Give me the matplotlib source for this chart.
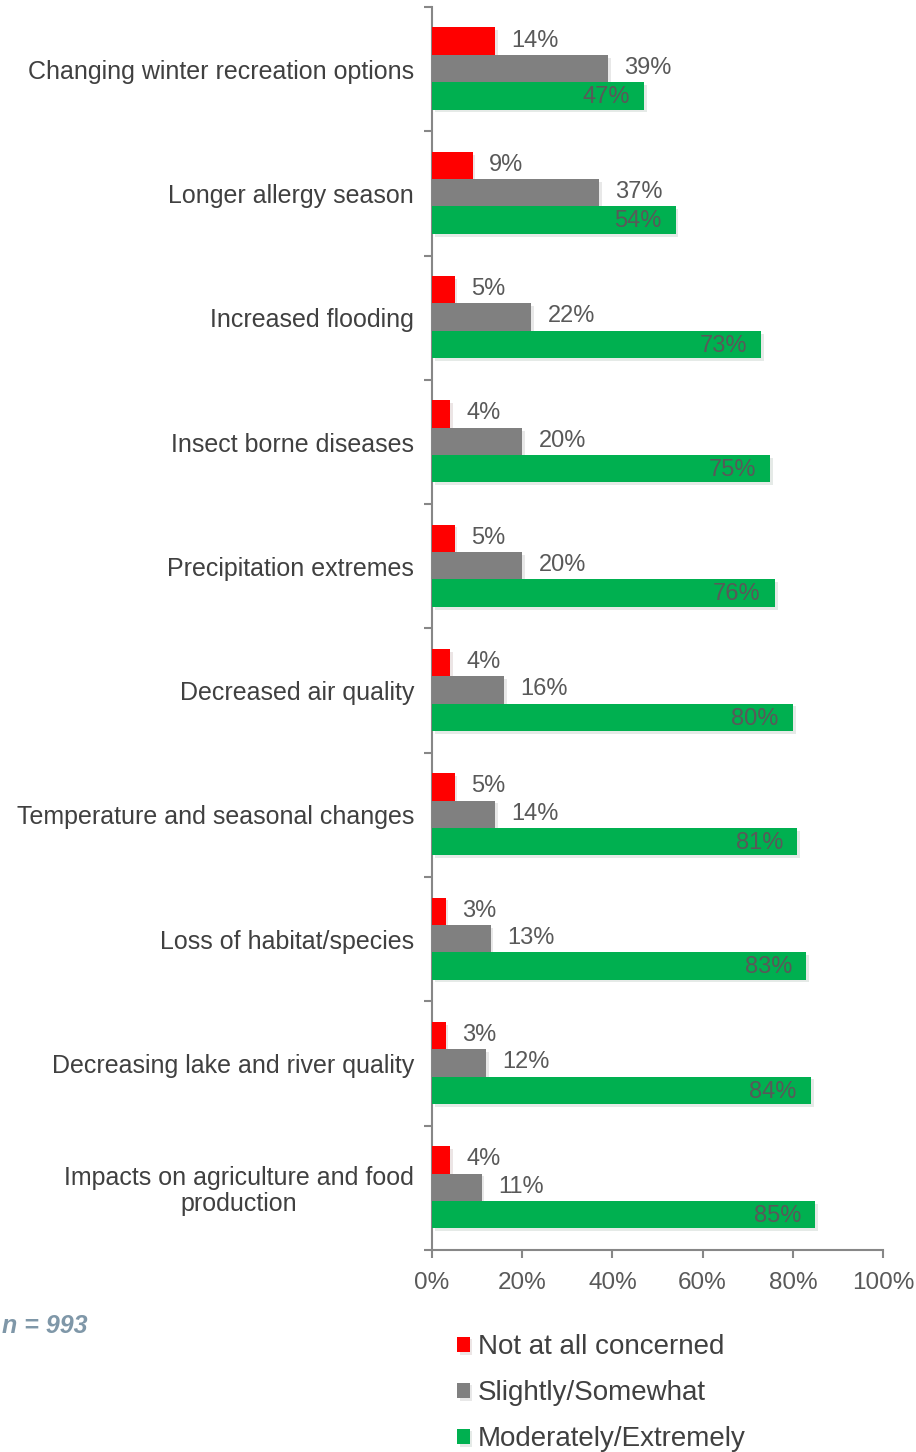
import matplotlib.pyplot as plt
import matplotlib.patheffects as pe
import numpy as np
from matplotlib.ticker import FixedLocator, PercentFormatter

categories = [
    "Changing winter recreation options",
    "Longer allergy season",
    "Increased flooding",
    "Insect borne diseases",
    "Precipitation extremes",
    "Decreased air quality",
    "Temperature and seasonal changes",
    "Loss of habitat/species",
    "Decreasing lake and river quality",
    "Impacts on agriculture and food\nproduction",
]
not_at_all = [14, 9, 5, 4, 5, 4, 5, 3, 3, 4]
slightly = [39, 37, 22, 20, 20, 16, 14, 13, 12, 11]
moderately = [47, 54, 73, 75, 76, 80, 81, 83, 84, 85]
series_names = ["Not at all concerned", "Slightly/Somewhat", "Moderately/Extremely"]

plt.rcParams['font.family'] = ['Liberation Sans', 'DejaVu Sans']
text_color = "#404040"
label_color = "#595959"
axis_color = "#878787"

fig = plt.figure(figsize=(9.16, 14.52), dpi=100)
ax = fig.add_axes([0.4716, 0.1391, 0.4924, 0.8561])

y = np.arange(len(categories))
h = 0.22
colors = ["#ff0000", "#808080", "#00b050"]
offsets = [-0.225, -0.005, 0.215]
shadow = [pe.SimplePatchShadow(offset=(2, -2), alpha=0.1), pe.Normal()]
handles = []
for vals, col, off, name in zip([not_at_all, slightly, moderately], colors, offsets, series_names):
    bars = ax.barh(y + off, vals, height=h, color=col, label=name, zorder=3)
    for b in bars:
        b.set_path_effects(shadow)
    handles.append(bars)
    for yy, v in zip(y + off, vals):
        if col == "#00b050":
            ax.text(v - 3.2, yy + 0.01, f"{v}%", ha="right", va="center",
                    fontsize=17, color=label_color, zorder=4)
        else:
            ax.text(v + 3.6, yy - 0.005, f"{v}%", ha="left", va="center",
                    fontsize=17, color=label_color, zorder=4)

ax.set_xlim(0, 100)
ax.set_ylim(len(categories) - 0.5, -0.5)
ax.xaxis.set_major_formatter(PercentFormatter(decimals=0))
ax.set_xticks(np.arange(0, 101, 20))
ax.set_yticks(y)
ax.set_yticklabels(categories, fontsize=18, color=text_color)
for lbl in ax.get_yticklabels():
    lbl.set_multialignment("center")
    lbl.set_linespacing(1.1)
ax.tick_params(axis="y", which="major", length=0, pad=13)
ax.yaxis.set_minor_locator(FixedLocator(np.arange(-0.5, len(categories), 1.0)))
ax.tick_params(axis="y", which="minor", length=6, width=1.5, color=axis_color, direction="out")
ax.tick_params(axis="x", length=6, width=1.5, color=axis_color, labelsize=17.5,
               labelcolor=label_color, pad=10)

for side in ["top", "right"]:
    ax.spines[side].set_visible(False)
for side in ["left", "bottom"]:
    ax.spines[side].set_color(axis_color)
    ax.spines[side].set_linewidth(1.5)

fig.text(0.002, 0.0865, "n = 993", fontsize=18, fontweight="bold", style="italic",
         color="#7f97a8", ha="left", va="center")

leg = fig.legend(handles=handles, loc="upper left", bbox_to_anchor=(0.499, 0.081),
                 frameon=False, fontsize=20, handlelength=0.45, handleheight=0.5,
                 handletextpad=0.3, labelspacing=0.72, borderpad=0, borderaxespad=0)
for t in leg.get_texts():
    t.set_color(text_color)

fig.savefig("out.png", dpi=100)
